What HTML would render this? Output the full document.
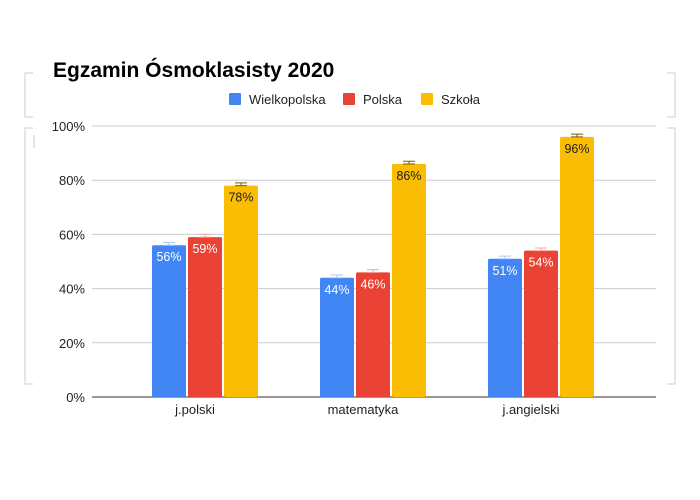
<!DOCTYPE html>
<html><head><meta charset="utf-8"><style>
body{margin:0;background:#fff;font-family:"Liberation Sans",Arial,sans-serif}
svg{display:block}
</style></head><body>
<svg width="700" height="500" viewBox="0 0 700 500">
<g stroke="#ccc" fill="none">
<path d="M33 73 H25 V117 H33"/><path d="M33 128 H25 V384 H33"/>
<path d="M667 73 H675 V117 H667"/><path d="M667 128 H675 V384 H667"/>
<line x1="34" y1="135" x2="34" y2="148" stroke="#e4e4e4" stroke-width="2"/>
</g>
<text x="53" y="77" font-size="21" font-weight="bold" fill="#000">Egzamin Ósmoklasisty 2020</text>
<g id="legend" font-size="13" fill="#222"></g>
<g id="grid"></g><g id="bars"></g><g id="xlabels" font-size="13" fill="#222"></g>
</svg>
<script>
const categories=["j.polski","matematyka","j.angielski"];
const seriesNames=["Wielkopolska","Polska","Szkoła"];
const wielkopolska=[56,44,51];
const polska=[59,46,54];
const szkola=[78,86,96];
const yTicks=[0,20,40,60,80,100];
const colors=["#4285f4","#ea4335","#fbbc04"];
const errColors=["#a8c6fa","#f4a49c","#7a5c00"];
const labelColors=["#fff","#fff","#222"];
const NS="http://www.w3.org/2000/svg";
const y0=397,y1=126,xL=92,xR=656;
const y=v=>y0-(v/100)*(y0-y1);
const xc=i=>205+168*i;
const bw=34,gap=2;
function mk(t,a,p){const e=document.createElementNS(NS,t);for(const k in a)e.setAttribute(k,a[k]);p.appendChild(e);return e;}
const grid=document.getElementById('grid');
yTicks.forEach(t=>{
 const l=mk('line',{x1:xL,x2:xR,y1:y(t),y2:y(t),stroke:t===0?'#333':'#ccc','stroke-width':1},grid);
 
 
 const tx=mk('text',{x:85,y:y(t)+5,'text-anchor':'end','font-size':13,fill:'#222'},grid);
 tx.textContent=t+'%';
 
 
});
const series=[wielkopolska,polska,szkola];
const bars=document.getElementById('bars');
categories.forEach((c,i)=>{
 series.forEach((s,j)=>{
  const v=s[i];
  const x=xc(i)-bw*1.5-gap+j*(bw+gap);
  const r=mk('rect',{x:x,y:y(v),width:bw,height:y0-y(v),fill:colors[j],rx:1.5},bars);
  
  
  const ey=y(v+1);
  const cx=x+bw/2;
  const eb=mk('path',{d:`M${cx-6} ${ey}H${cx+6}M${cx} ${ey}V${y(v)}M${cx-6} ${y(v)}H${cx+6}`,stroke:errColors[j],'stroke-width':1,fill:'none'},bars);
  
  
  const t=mk('text',{x:cx,y:y(v)+16,'text-anchor':'middle','font-size':12.5,fill:labelColors[j]},bars);
  t.textContent=v+'%';
  
  
 });
 const xl=mk('text',{x:xc(i)-10,y:414,'text-anchor':'middle'},document.getElementById('xlabels'));
 xl.textContent=c;
 
 
});
const lg=document.getElementById('legend');
const lx=[229,343,421];
seriesNames.forEach((n,j)=>{
 const g=mk('g',{},lg);
 
 
 mk('rect',{x:lx[j],y:93,width:12,height:12,fill:colors[j],rx:1},g);
 const t=mk('text',{x:lx[j]+20,y:104},g);t.textContent=n;
});
</script>
</body></html>
